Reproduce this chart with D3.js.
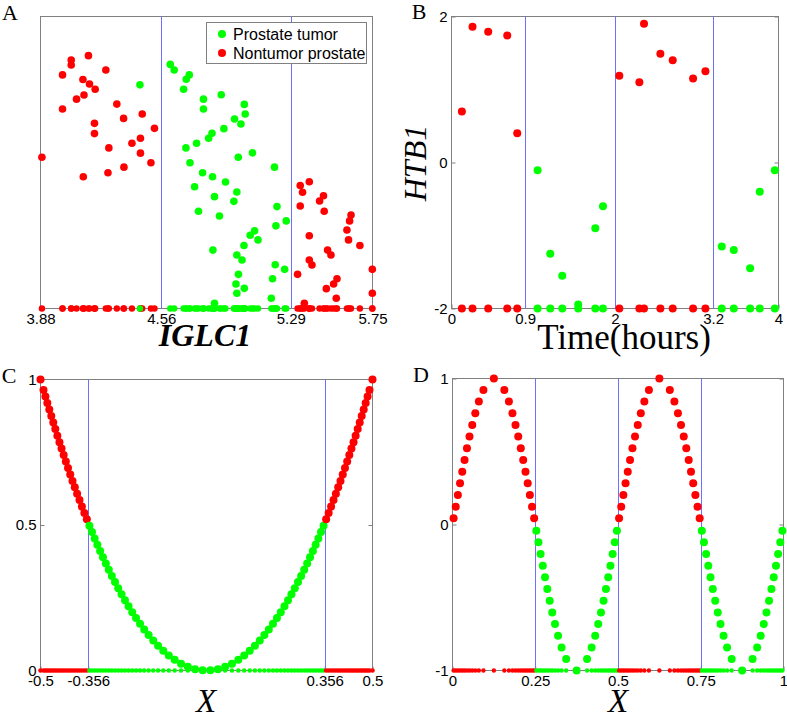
<!DOCTYPE html>
<html><head><meta charset="utf-8">
<script src="https://cdn.jsdelivr.net/npm/d3@7"></script>
<style>body{margin:0;background:#fff}svg{display:block}</style>
</head><body>
<script>
// ---------- Panel A: IGLC1 ----------
const aTumorX = [4.440,4.611,4.633,4.701,4.718,4.686,4.798,4.798,4.898,5.028,5.033,4.973,5.009,4.913,4.846,4.827,4.759,4.699,4.722,4.994,5.074,5.198,4.793,4.849,4.922,4.748,4.986,4.860,4.969,5.212,4.770,4.888,5.264,5.206,5.086,5.061,5.105,5.026,4.851,4.986,5.015,5.202,5.255,4.995,5.187,4.981,5.028,4.986,5.180,4.860];
const aTumorY = [0.766,0.836,0.817,0.785,0.800,0.751,0.717,0.683,0.732,0.699,0.666,0.649,0.632,0.616,0.600,0.583,0.566,0.550,0.499,0.518,0.533,0.484,0.465,0.451,0.433,0.417,0.399,0.383,0.367,0.349,0.333,0.317,0.300,0.283,0.266,0.251,0.235,0.216,0.200,0.183,0.166,0.150,0.134,0.117,0.102,0.084,0.069,0.052,0.035,0.018];
const aNormalX = [3.888,4.004,4.004,4.053,4.053,4.083,4.119,4.125,4.121,4.150,4.156,4.188,4.184,4.184,4.248,4.265,4.260,4.310,4.348,4.350,4.395,4.443,4.443,4.453,4.502,4.522,5.343,5.356,5.394,5.343,5.474,5.452,5.478,5.629,5.621,5.606,5.615,5.679,5.394,5.497,5.516,5.394,5.409,5.749,5.328,5.550,5.531,5.490,5.546,5.749,5.366];
const aNormalY = [0.518,0.800,0.683,0.851,0.834,0.717,0.784,0.731,0.451,0.866,0.769,0.751,0.634,0.599,0.817,0.550,0.465,0.700,0.651,0.484,0.566,0.583,0.532,0.666,0.499,0.617,0.421,0.398,0.434,0.351,0.386,0.368,0.333,0.320,0.300,0.269,0.235,0.216,0.249,0.200,0.183,0.166,0.149,0.134,0.117,0.102,0.084,0.068,0.035,0.052,0.018];
const aTicks = [3.88, 4.56, 5.29, 5.75];
const aSplits = [4.56, 5.29];
const legendLabels = ["Prostate tumor", "Nontumor prostate"];

// ---------- Panel B: HTB1 over time ----------
const bRedT = [0.127,0.257,0.449,0.682,0.804,2.053,2.298,2.355,2.555,2.706,2.955,3.106];
const bRedV = [0.70,1.86,1.79,1.74,0.40,1.19,1.10,1.90,1.49,1.40,1.15,1.25];
const bGreenT = [1.053,1.208,1.355,1.550,1.759,1.853,3.306,3.453,3.653,3.771,3.955];
const bGreenV = [-0.105,-1.25,-1.55,-1.945,-0.90,-0.60,-1.15,-1.20,-1.45,-0.40,-0.105];
const bXTicks = [0, 0.9, 2, 3.2, 4];
const bYTicks = [-2, 0, 2];
const bSplits = [0.9, 2, 3.2];

// ---------- Panel C: parabola ----------
const cX = [-0.5,-0.4910,-0.4852,-0.4794,-0.4735,-0.4675,-0.4615,-0.4554,-0.4492,-0.4429,-0.4366,-0.4302,-0.4237,-0.4171,-0.4104,-0.4036,-0.3967,-0.3897,-0.3826,-0.3753,-0.3679,-0.3604,-0.3527,-0.3449,-0.3369,-0.3287,-0.3204,-0.3119,-0.3032,-0.2943,-0.2851,-0.2756,-0.2659,-0.2559,-0.2455,-0.2348,-0.2237,-0.2122,-0.2002,-0.1876,-0.1744,-0.1605,-0.1458,-0.1302,-0.1136,-0.0958,-0.0767,-0.0562,-0.0344,-0.0116,
0.0116,0.0344,0.0562,0.0767,0.0958,0.1136,0.1302,0.1458,0.1605,0.1744,0.1876,0.2002,0.2122,0.2237,0.2348,0.2455,0.2559,0.2659,0.2756,0.2851,0.2943,0.3032,0.3119,0.3204,0.3287,0.3369,0.3449,0.3527,0.3604,0.3679,0.3753,0.3826,0.3897,0.3967,0.4036,0.4104,0.4171,0.4237,0.4302,0.4366,0.4429,0.4492,0.4554,0.4615,0.4675,0.4735,0.4794,0.4852,0.4910,0.5];
const cY = [1.0,0.9643,0.9417,0.9193,0.8968,0.8742,0.8519,0.8296,0.8071,0.7846,0.7625,0.7403,0.7181,0.6959,0.6737,0.6516,0.6295,0.6075,0.5855,0.5634,0.5414,0.5195,0.4976,0.4758,0.4540,0.4322,0.4106,0.3891,0.3677,0.3465,0.3251,0.3038,0.2828,0.2619,0.2411,0.2205,0.2002,0.1801,0.1603,0.1408,0.1217,0.1030,0.0850,0.0678,0.0516,0.0367,0.0235,0.0126,0.0047,0.0005,
0.0005,0.0047,0.0126,0.0235,0.0367,0.0516,0.0678,0.0850,0.1030,0.1217,0.1408,0.1603,0.1801,0.2002,0.2205,0.2411,0.2619,0.2828,0.3038,0.3251,0.3465,0.3677,0.3891,0.4106,0.4322,0.4540,0.4758,0.4976,0.5195,0.5414,0.5634,0.5855,0.6075,0.6295,0.6516,0.6737,0.6959,0.7181,0.7403,0.7625,0.7846,0.8071,0.8296,0.8519,0.8742,0.8968,0.9193,0.9417,0.9643,1.0];
const cThreshold = 0.5;
const cXTicks = [-0.5, -0.356, 0.356, 0.5];
const cYTicks = [0, 0.5, 1];
const cSplits = [-0.356, 0.356];

// ---------- Panel D: sine ----------
const dX = [0.0033,0.0097,0.0162,0.0228,0.0295,0.0364,0.0437,0.0514,0.0597,0.0689,0.0796,0.0934,0.1250,0.1566,0.1704,0.1811,0.1903,0.1986,0.2063,0.2136,0.2205,0.2272,0.2338,0.2403,0.2467,
0.2533,0.2597,0.2662,0.2728,0.2795,0.2864,0.2937,0.3014,0.3097,0.3189,0.3296,0.3434,0.3750,0.4066,0.4204,0.4311,0.4403,0.4486,0.4563,0.4636,0.4705,0.4772,0.4838,0.4903,0.4967,
0.5033,0.5097,0.5162,0.5228,0.5295,0.5364,0.5437,0.5514,0.5597,0.5689,0.5796,0.5934,0.6250,0.6566,0.6704,0.6811,0.6903,0.6986,0.7063,0.7136,0.7205,0.7272,0.7338,0.7403,0.7467,
0.7533,0.7597,0.7662,0.7728,0.7795,0.7864,0.7937,0.8014,0.8097,0.8189,0.8296,0.8434,0.8750,0.9066,0.9204,0.9311,0.9403,0.9486,0.9563,0.9636,0.9705,0.9772,0.9838,0.9903,0.9967];
const dY = [0.042,0.122,0.202,0.282,0.362,0.442,0.522,0.602,0.682,0.762,0.842,0.922,1,0.922,0.842,0.762,0.682,0.602,0.522,0.442,0.362,0.282,0.202,0.122,0.042,
-0.042,-0.122,-0.202,-0.282,-0.362,-0.442,-0.522,-0.602,-0.682,-0.762,-0.842,-0.922,-1,-0.922,-0.842,-0.762,-0.682,-0.602,-0.522,-0.442,-0.362,-0.282,-0.202,-0.122,-0.042,
0.042,0.122,0.202,0.282,0.362,0.442,0.522,0.602,0.682,0.762,0.842,0.922,1,0.922,0.842,0.762,0.682,0.602,0.522,0.442,0.362,0.282,0.202,0.122,0.042,
-0.042,-0.122,-0.202,-0.282,-0.362,-0.442,-0.522,-0.602,-0.682,-0.762,-0.842,-0.922,-1,-0.922,-0.842,-0.762,-0.682,-0.602,-0.522,-0.442,-0.362,-0.282,-0.202,-0.122,-0.042];
const dThreshold = 0;
const dXTicks = [0, 0.25, 0.5, 0.75, 1];
const dYTicks = [-1, 0, 1];
const dSplits = [0.25, 0.5, 0.75];

// ---------- drawing ----------
const RED = "#ff0000", GREEN = "#00ff00", BLUE = "#6f6fff", GRAY = "#808080";
const SANS = "'Liberation Sans', Arial, sans-serif";
const SERIF = "'Liberation Serif', 'Times New Roman', serif";

const svg = d3.select("body").append("svg").attr("width", 787).attr("height", 717);
svg.append("rect").attr("width", 787).attr("height", 717).attr("fill", "#fff");

function panel(o) {
  const g = svg.append("g");
  const [x0, x1] = o.x.range();
  const [yb, yt] = o.y.range();
  g.append("rect").attr("x", x0).attr("y", yt).attr("width", x1 - x0).attr("height", yb - yt)
    .attr("fill", "none").attr("stroke", GRAY).attr("stroke-width", 1);
  const ax = g.append("g").attr("transform", `translate(0,${yb})`)
    .call(d3.axisBottom(o.x).tickValues(o.xTicks).tickFormat(String).tickSizeInner(o.tick).tickSizeOuter(0).tickPadding(5));
  ax.select(".domain").remove();
  ax.selectAll("line").attr("stroke", GRAY);
  ax.selectAll("text").attr("font-family", SANS).attr("font-size", 15).attr("fill", "#000");
  if (o.yTicks) {
    const ay = g.append("g").attr("transform", `translate(${x0},0)`)
      .call(d3.axisLeft(o.y).tickValues(o.yTicks).tickFormat(String).tickSizeInner(-4).tickSizeOuter(0).tickPadding(4));
    ay.select(".domain").remove();
    ay.selectAll("line").attr("stroke", GRAY);
    ay.selectAll("text").attr("font-family", SANS).attr("font-size", 15).attr("fill", "#000");
    const ay2 = g.append("g").attr("transform", `translate(${x1},0)`)
      .call(d3.axisRight(o.y).tickValues(o.yTicks).tickFormat("").tickSizeInner(-4).tickSizeOuter(0));
    ay2.select(".domain").remove();
    ay2.selectAll("line").attr("stroke", GRAY);
  }
  // vertical split lines
  g.append("g").selectAll("line").data(o.splits).join("line")
    .attr("x1", d => Math.round(o.x(d)) + 0.5).attr("x2", d => Math.round(o.x(d)) + 0.5)
    .attr("y1", yt).attr("y2", yb).attr("stroke", BLUE).attr("stroke-width", 1);
  const base = o.y.domain()[0];
  const bottom = g.append("g"), main = g.append("g");
  bottom.selectAll("circle").data(o.pts).join("circle")
    .attr("cx", d => o.x(d.x)).attr("cy", o.y(base)).attr("r", o.rb).attr("fill", d => d.c);
  main.selectAll("circle").data(o.pts).join("circle")
    .attr("cx", d => o.x(d.x)).attr("cy", d => o.y(d.y)).attr("r", o.r).attr("fill", d => d.c);
  return g;
}

// A
const xA = d3.scaleLinear().domain([3.88, 5.75]).range([40.5, 372.5]);
const yA = d3.scaleLinear().domain([0, 1]).range([308.5, 16.5]);
const ptsA = aNormalX.map((x, i) => ({x, y: aNormalY[i], c: RED}))
  .concat(aTumorX.map((x, i) => ({x, y: aTumorY[i], c: GREEN})));
panel({x: xA, y: yA, xTicks: aTicks, yTicks: null, splits: aSplits, pts: ptsA, r: 3.8, rb: 3.2, tick: 0});

// legend A
const lg = svg.append("g");
lg.append("rect").attr("x", 206.5).attr("y", 22.5).attr("width", 160).attr("height", 41)
  .attr("fill", "#fff").attr("stroke", GRAY);
[GREEN, RED].forEach((c, i) => {
  lg.append("circle").attr("cx", 222).attr("cy", 34 + i * 19).attr("r", 4).attr("fill", c);
  lg.append("text").attr("x", 233).attr("y", 39.5 + i * 19.3).text(legendLabels[i])
    .attr("font-family", SANS).attr("font-size", 16).attr("fill", "#000");
});

// B
const xB = d3.scaleLinear().domain([0, 4]).range([451.5, 778.5]);
const yB = d3.scaleLinear().domain([-2, 2]).range([308.5, 16.5]);
const ptsB = bRedT.map((x, i) => ({x, y: bRedV[i], c: RED}))
  .concat(bGreenT.map((x, i) => ({x, y: bGreenV[i], c: GREEN})));
panel({x: xB, y: yB, xTicks: bXTicks, yTicks: bYTicks, splits: bSplits, pts: ptsB, r: 4, rb: 4, tick: -4});

// C
const xC = d3.scaleLinear().domain([-0.5, 0.5]).range([40.5, 372.5]);
const yC = d3.scaleLinear().domain([0, 1]).range([670.5, 379.5]);
const ptsC = cX.map((x, i) => ({x, y: cY[i], c: cY[i] >= cThreshold ? RED : GREEN}));
panel({x: xC, y: yC, xTicks: cXTicks, yTicks: cYTicks, splits: cSplits, pts: ptsC, r: 4, rb: 2.3, tick: -4});

// D
const xD = d3.scaleLinear().domain([0, 1]).range([452.5, 783.5]);
const yD = d3.scaleLinear().domain([-1, 1]).range([670.5, 378.5]);
const ptsD = dX.map((x, i) => ({x, y: dY[i], c: dY[i] >= dThreshold ? RED : GREEN}));
panel({x: xD, y: yD, xTicks: dXTicks, yTicks: dYTicks, splits: dSplits, pts: ptsD, r: 4, rb: 2.2, tick: -4});

// axis titles
function txt(x, y, s, size, style, weight, rot) {
  const t = svg.append("text").attr("x", x).attr("y", y).text(s)
    .attr("font-family", SERIF).attr("font-size", size).attr("text-anchor", "middle")
    .attr("font-style", style).attr("font-weight", weight).attr("fill", "#000");
  if (rot) t.attr("transform", `rotate(${rot},${x},${y})`);
  return t;
}
txt(205, 346, "IGLC1", 32, "italic", "bold");
txt(624, 349, "Time(hours)", 35, "normal", "normal");
txt(426, 163, "HTB1", 32, "italic", "normal", -90);
txt(206, 712, "X", 33, "italic", "normal");
txt(618, 712, "X", 33, "italic", "normal");

// panel letters
[["A", 10, 20], ["B", 419, 19], ["C", 9, 383], ["D", 421, 382]].forEach(([s, x, y]) =>
  txt(x, y, s, 22, "normal", "normal"));
</script>
</body></html>
